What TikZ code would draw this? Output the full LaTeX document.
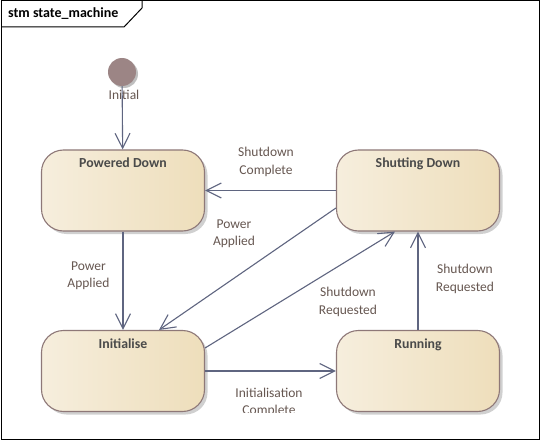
\documentclass[tikz,border=0pt]{standalone}
\usepackage{fontspec}
\setmainfont{Carlito}
\usetikzlibrary{arrows.meta,shadows}

\definecolor{edgecol}{HTML}{5F6580}
\definecolor{boxline}{HTML}{8E7878}
\definecolor{boxleft}{HTML}{F6EEDD}
\definecolor{boxright}{HTML}{EEDEBB}
\definecolor{labcol}{HTML}{665751}
\definecolor{titcol}{HTML}{4A4A4A}
\definecolor{initcol}{HTML}{9C8585}

\tikzset{
state/.style={draw=boxline,line width=1.1pt,rounded corners=22pt,left color=boxleft,right color=boxright,
  minimum width=163pt,minimum height=81pt,inner sep=0pt,
  drop shadow={shadow xshift=3pt,shadow yshift=-3pt,opacity=.3,fill=black!60}},
trans/.style={draw=edgecol,line width=1.1pt,-{Straight Barb[length=15pt,width=15pt,line width=1.1pt]}},
lab/.style={text=labcol,align=center,font=\fontsize{13.5}{17.5}\selectfont,inner sep=0pt}
}

\begin{document}
\begin{tikzpicture}[x=1pt,y=-1pt]
\useasboundingbox (0,0) rectangle (541,441);
\fill[white] (0,0) rectangle (541,441);

% frame
\draw[line width=1pt] (1,1) rectangle (539,439);
\draw[line width=1pt] (1,27)--(124,27)--(142,8)--(142,1);
\node[anchor=west,font=\fontsize{14}{16}\bfseries\selectfont,inner sep=0pt] (frm) at (8,14) {stm state\_machine};

% initial state
\fill[black!25] (124,74) circle (14);
\node[circle,fill=initcol,minimum size=28pt,inner sep=0pt] (init) at (122,72) {};
\node[lab] (initlab) at (124,95) {Initial};

% states
\foreach \n/\x/\y/\t in {pd/123/190.5/Powered Down,sd/418/190.5/Shutting Down,ini/123/371/Initialise,run/418/371/Running}
{
\node[state,label={[anchor=north,yshift=-5pt,text=titcol,font=\fontsize{13.8}{16}\bfseries\selectfont]north:\t}] (\n) at (\x,\y) {};
}

% transitions
\draw[trans] (init) -- (pd);
\draw[trans] (pd) -- (ini);
\draw[trans] (sd) -- (pd);
\draw[trans] ([yshift=-17.5pt]sd.west) -- ([xshift=36pt]ini.north);
\draw[trans] ([yshift=23pt]ini.east) -- ([xshift=-23pt]sd.south);
\draw[trans] (run) -- (sd);
\draw[trans] (ini) -- (run);

% transition labels
\node[lab] (l1) at (88.5,276) {Power\\Applied};
\node[lab] (l2) at (266,162) {Shutdown\\Complete};
\node[lab] (l3) at (234,234) {Power\\Applied};
\node[lab] (l4) at (348,302) {Shutdown\\Requested};
\node[lab] (l5) at (465,279) {Shutdown\\Requested};
\begin{scope}
\clip (0,0) rectangle (541,412);
\node[lab] (l6) at (269,402.5) {Initialisation\\Complete};
\end{scope}
\end{tikzpicture}
\end{document}
